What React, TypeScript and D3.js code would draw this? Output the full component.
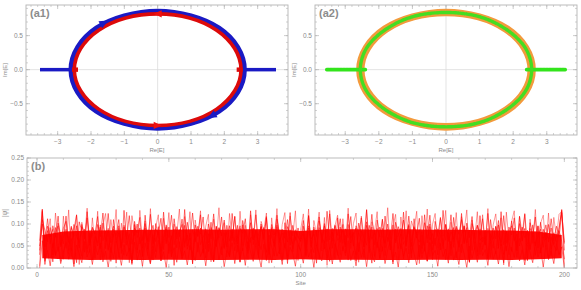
import React from "react";
import * as d3 from "d3";

// ---- panel (a): spectra in the complex plane ----
// ellipse points [Re, Im], first quadrant, mirrored below
const blueQuad: [number, number][] = [[2.6, 0], [2.4, 0.33], [1.84, 0.61], [1.0, 0.79], [0, 0.86]];
const redQuad: [number, number][] = [[2.5, 0], [2.31, 0.31], [1.77, 0.58], [0.96, 0.76], [0, 0.82]];
const greenQuad: [number, number][] = [[2.55, 0], [2.36, 0.32], [1.8, 0.59], [0.98, 0.78], [0, 0.84]];

// real-axis branches [from, to]
const blueBranches: [number, number][] = [[-3.53, -2.6], [2.6, 3.55]];
const greenBranches: [number, number][] = [[-3.55, -2.4], [2.4, 3.55]];

// arrows [Re, Im, dRe, dIm]
const blueArrows = [[-1.6, 0.69, 2.05, 0.53], [1.62, -0.68, -2.02, -0.54]];
const redArrows = [[0, 0.82, -1, 0], [0, -0.82, 1, 0]];
const redMarks = [[-2.48, 0], [2.46, 0]];

// ---- panel (b): |psi| per site, values in 1/1000 ----
const sA = [62,134,48,95,70,88,30,102,76,55,118,40,92,67,12,105,84,36,128,58,80,22,99,71,125,44,90,15,110,63,96,33,131,52,78,8,106,69,91,27,120,60,85,18,101,74,38,127,56,93,25,112,66,87,42,133,50,79,10,98,72,121,35,89,57,104,20,94,68,116,46,83,28,124,61,97,14,108,75,39,130,53,86,24,100,65,117,31,92,49,111,77,17,103,59,126,37,84,70,62,95,29,119,54,88,11,107,73,43,129,64,90,21,114,58,99,34,123,67,81,16,102,76,47,132,55,93,26,109,71,38,118,60,85,9,104,79,44,127,51,96,23,112,68,87,32,121,57,100,19,106,74,41,131,63,89,28,115,70,48,124,55,92,13,101,77,36,119,59,86,22,110,66,95,45,128,53,83,30,107,72,40,117,61,90,18,103,75,50,96,34,88,64,99,42,80,58,92,131,40];
const sB = [30,110,85,60,92,45,78,96,52,70,88,64,40,99,73,57,94,81,35,67,90,76,50,98,62,84,42,71,95,58,80,47,93,66,38,86,74,100,55,69,91,43,77,97,60,83,36,72,94,51,68,89,46,79,99,56,75,41,87,63,95,53,70,84,37,92,65,48,90,78,44,97,61,82,54,73,96,39,85,67,58,91,49,76,93,64,35,88,71,52,98,62,80,45,94,69,55,87,74,60,83,40,96,66,77,50,92,71,58,89,43,79,95,63,70,86,48,99,57,75,91,37,84,68,52,97,65,80,46,93,72,56,88,41,98,61,76,90,54,67,85,49,94,70,59,83,38,96,64,78,51,89,73,44,99,60,82,66,92,47,75,95,57,86,40,79,97,63,70,53,90,68,45,94,74,58,87,39,81,96,62,77,50,93,69,84,42,98,56,73,88,47,80,65,91,54,72,85,60,20];
const sC = [5,128,20,74,112,30,125,60,15,118,45,132,26,90,120,8,104,66,136,35,114,50,129,18,98,124,40,110,70,133,24,102,58,127,12,119,80,34,131,62,107,28,135,47,92,121,16,113,55,126,38,100,76,134,22,117,63,128,9,109,71,130,33,95,122,14,111,59,137,43,103,25,124,68,116,36,129,52,97,19,121,64,132,31,106,85,125,11,114,57,135,42,99,126,27,118,73,130,17,88,123,48,134,21,108,77,127,39,115,6,131,61,96,120,29,112,54,136,44,101,125,13,118,69,133,35,105,82,128,23,110,58,137,41,94,122,18,116,65,130,32,107,87,129,10,119,50,134,26,99,124,46,113,72,131,20,104,60,126,37,117,84,132,15,109,67,128,30,121,53,135,24,98,123,45,114,7,127,63,106,130,39,118,78,124,16,111,56,133,34,102,120,49,125,28,115,70,122,128,55];
const sD = [0,62,15,40,5,55,28,48,10,36,58,20,45,3,52,33,12,60,25,42,8,50,30,56,14,38,2,47,22,61,35,6,53,27,44,11,59,18,41,4,57,31,9,49,24,63,16,37,1,54,29,46,13,60,21,39,7,51,34,17,58,26,43,5,55,32,14,62,19,48,3,40,28,57,10,52,23,45,6,60,36,15,50,30,2,54,20,44,12,59,27,41,8,56,18,47,33,4,53,38,11,58,25,42,1,51,31,16,60,22,46,9,55,35,13,49,28,62,17,39,5,57,24,44,3,53,30,14,59,21,48,10,41,63,19,36,2,55,27,45,12,60,33,7,52,23,47,15,58,29,40,4,56,26,43,11,61,18,37,8,54,32,1,50,22,46,13,57,28,42,6,59,20,38,9,55,31,49,3,47,24,62,16,41,7,53,35,12,58,25,44,2,51,19,39,10,56,30,48,0];
const sE = [50,100,62,112,55,96,70,118,48,90,106,58,95,72,121,46,99,66,114,52,93,78,117,44,102,63,124,57,88,74,110,49,97,68,119,54,91,80,115,45,101,61,122,56,89,76,113,42,98,69,120,53,94,71,111,47,104,65,125,59,87,77,116,43,100,67,123,51,92,73,109,48,96,62,118,55,90,79,112,46,103,64,121,50,95,70,114,44,99,75,120,57,88,68,110,52,97,63,91,66,108,54,119,47,93,72,116,58,101,60,123,45,98,74,112,56,89,69,117,50,96,78,114,48,105,61,122,53,90,71,111,46,100,65,124,57,94,73,109,49,118,62,92,76,113,44,103,67,120,55,88,72,115,51,99,64,121,47,95,77,110,58,102,69,117,43,97,74,112,52,124,60,91,66,108,50,119,56,93,75,114,48,101,63,122,54,90,71,116,46,104,67,98,59,112,62,95,70,126,58];
const sF = [40,131,8,85,66,14,92,38,74,20,83,31,67,9,96,52,27,88,44,79,18,71,58,93,24,62,86,35,77,11,90,47,29,81,63,16,99,41,70,26,84,55,12,76,37,94,21,65,89,33,73,6,87,50,28,97,43,68,19,82,36,91,57,23,78,46,15,95,61,30,80,49,25,88,39,72,13,98,54,34,69,22,85,59,42,92,17,75,48,27,94,32,63,83,10,87,45,71,56,40,76,26,91,51,35,84,20,67,96,43,15,81,58,29,93,39,74,18,86,52,31,79,64,24,97,47,11,85,60,37,90,28,70,53,14,88,44,77,21,66,99,34,58,82,25,73,49,16,94,41,68,30,87,56,19,80,45,92,23,62,35,96,50,13,84,57,27,89,42,71,20,78,61,32,98,46,12,83,55,38,91,24,67,50,17,86,43,74,29,95,36,63,81,22,70,52,40,88,133,0];
const waveSeries = [sA, sB, sC, sD, sE, sF];

// dense core of the overlapping states
const bandSites = [2, 10, 20, 30, 40, 50, 60, 70, 80, 90, 100, 110, 120, 130, 140, 150, 160, 170, 180, 190, 199];
const bandTop = [0.075, 0.083, 0.085, 0.086, 0.087, 0.087, 0.088, 0.087, 0.088, 0.088, 0.084, 0.088, 0.088, 0.087, 0.088, 0.087, 0.087, 0.086, 0.085, 0.083, 0.075];
const bandBottom = [0.022, 0.02, 0.018, 0.019, 0.018, 0.019, 0.018, 0.018, 0.019, 0.018, 0.02, 0.018, 0.019, 0.018, 0.018, 0.019, 0.018, 0.019, 0.018, 0.02, 0.022];

const FONT = "'Liberation Sans', Arial, sans-serif";
const FRAME = "#b4b4b4";
const TXT = "#8a8a8a";

const mirror = (q: [number, number][]) => {
  // full closed loop from the first-quadrant points
  const top = q.concat(q.slice(0, -1).reverse().map(([r, i]) => [-r, i] as [number, number]));
  const bottom = top.slice(1, -1).reverse().map(([r, i]) => [r, -i] as [number, number]);
  return top.concat(bottom);
};

const fmt = (v: number) => (v < 0 ? "\u2212" : "") + Math.abs(v);

function Frame({ x, y, xMajor, xMinor, yMajor, yMinor, xFmt, yFmt }: any) {
  const [x0, x1] = x.range();
  const [y0, y1] = y.range();
  return (
    <g>
      <rect x={x0} y={y1} width={x1 - x0} height={y0 - y1} fill="none" stroke={FRAME} strokeWidth={0.9} />
      {xMinor.map((t: number, i: number) => (
        <g key={"xm" + i} stroke={FRAME} strokeWidth={0.6}>
          <line x1={x(t)} x2={x(t)} y1={y0} y2={y0 - 2} />
          <line x1={x(t)} x2={x(t)} y1={y1} y2={y1 + 2} />
        </g>
      ))}
      {yMinor.map((t: number, i: number) => (
        <g key={"ym" + i} stroke={FRAME} strokeWidth={0.6}>
          <line x1={x0} x2={x0 + 2} y1={y(t)} y2={y(t)} />
          <line x1={x1} x2={x1 - 2} y1={y(t)} y2={y(t)} />
        </g>
      ))}
      {xMajor.map((t: number, i: number) => (
        <g key={"xM" + i}>
          <line x1={x(t)} x2={x(t)} y1={y0} y2={y0 - 4} stroke={FRAME} strokeWidth={0.7} />
          <line x1={x(t)} x2={x(t)} y1={y1} y2={y1 + 4} stroke={FRAME} strokeWidth={0.7} />
          <text x={x(t)} y={y0 + 8.5} fontSize={6.5} fill={TXT} textAnchor="middle" fontFamily={FONT}>
            {xFmt(t)}
          </text>
        </g>
      ))}
      {yMajor.map((t: number, i: number) => (
        <g key={"yM" + i}>
          <line x1={x0} x2={x0 + 4} y1={y(t)} y2={y(t)} stroke={FRAME} strokeWidth={0.7} />
          <line x1={x1} x2={x1 - 4} y1={y(t)} y2={y(t)} stroke={FRAME} strokeWidth={0.7} />
          <text x={x0 - 3} y={y(t) + 2.3} fontSize={6.5} fill={TXT} textAnchor="end" fontFamily={FONT}>
            {yFmt(t)}
          </text>
        </g>
      ))}
    </g>
  );
}

function Arrow({ px, py, dx, dy, color, len, half }: any) {
  const ang = (Math.atan2(dy, dx) * 180) / Math.PI;
  return (
    <path
      d={`M${len / 2},0 L${-len / 2},${-half} L${-len / 2},${half} Z`}
      fill={color}
      transform={`translate(${px},${py}) rotate(${ang})`}
    />
  );
}

function SpectrumPanel({ x, y, label, variant }: any) {
  const loop = d3.line<[number, number]>().x((d) => x(d[0])).y((d) => y(d[1])).curve(d3.curveCardinalClosed.tension(0));
  const [x0, x1] = x.range();
  const [y0, y1] = y.range();
  const cx = (x0 + x1) / 2;
  return (
    <g>
      <line x1={x(0)} x2={x(0)} y1={y0} y2={y1} stroke="#dcdcdc" strokeWidth={0.8} />
      <line x1={x0} x2={x1} y1={y(0)} y2={y(0)} stroke="#dcdcdc" strokeWidth={0.8} />
      {variant === "a1" ? (
        <g>
          {blueBranches.map((b, i) => (
            <line key={i} x1={x(b[0])} x2={x(b[1])} y1={y(0)} y2={y(0)} stroke="#1a1ac4" strokeWidth={3.5} />
          ))}
          <path d={loop(mirror(blueQuad)) || ""} fill="none" stroke="#1a1ac4" strokeWidth={5} />
          <path d={loop(mirror(redQuad)) || ""} fill="none" stroke="#dd0a0a" strokeWidth={3.6} />
          {blueArrows.map((a, i) => (
            <Arrow key={"b" + i} px={x(a[0])} py={y(a[1])} dx={x(a[0] + a[2]) - x(a[0])} dy={y(a[1] + a[3]) - y(a[1])} color="#1a1ac4" len={9} half={4} />
          ))}
          {redArrows.map((a, i) => (
            <Arrow key={"r" + i} px={x(a[0])} py={y(a[1])} dx={x(a[0] + a[2]) - x(a[0])} dy={y(a[1] + a[3]) - y(a[1])} color="#ee1111" len={8} half={3.6} />
          ))}
          {redMarks.map((m, i) => (
            <rect key={"m" + i} x={x(m[0]) - 3} y={y(m[1]) - 2.2} width={6} height={4.4} fill="#dd0a0a" />
          ))}
        </g>
      ) : (
        <g>
          <path d={loop(mirror(blueQuad)) || ""} fill="none" stroke="#f39a3c" strokeWidth={5} />
          <path d={loop(mirror(redQuad)) || ""} fill="none" stroke="#f39a3c" strokeWidth={5} />
          {greenBranches.map((b, i) => (
            <line key={i} x1={x(b[0])} x2={x(b[1])} y1={y(0)} y2={y(0)} stroke="#33e41c" strokeWidth={3.6} strokeLinecap="round" strokeDasharray="2.4 0.8" />
          ))}
          <path d={loop(mirror(greenQuad)) || ""} fill="none" stroke="#44dd22" strokeWidth={3.4} strokeLinecap="round" strokeDasharray="2.6 0.9" />
        </g>
      )}
      <Frame
        x={x}
        y={y}
        xMajor={x.ticks(7)}
        xMinor={x.ticks(40)}
        yMajor={y.ticks(4)}
        yMinor={y.ticks(20)}
        xFmt={fmt}
        yFmt={(v: number) => (v < 0 ? "\u2212" : "") + Math.abs(v).toFixed(1)}
      />
      <text x={x0 + 4} y={y1 + 11.5} fontSize={11} fill="#8c8c8c" fontWeight="bold" fontFamily={FONT}>
        {label}
      </text>
      <text x={cx} y={y0 + 16.5} fontSize={6} fill={TXT} textAnchor="middle" fontFamily={FONT}>
        Re[E]
      </text>
      <text transform={`translate(${x0 - 19},${(y0 + y1) / 2}) rotate(-90)`} fontSize={6} fill={TXT} textAnchor="middle" fontFamily={FONT}>
        Im[E]
      </text>
    </g>
  );
}

export default function App() {
  const ya = d3.scaleLinear().domain([-0.96, 0.95]).range([135, 5]);
  const xa1 = d3.scaleLinear().domain([-3.95, 3.91]).range([26, 288]);
  const xa2 = d3.scaleLinear().domain([-3.9, 3.9]).range([315, 577]);

  const xb = d3.scaleLinear().domain([-3.8, 204.8]).range([27, 577]);
  const yb = d3.scaleLinear().domain([0, 0.25]).range([268, 158]);

  const wave = d3.line<number>().x((_, i) => xb(i + 1)).y((v) => yb(v / 1000));
  const band = d3
    .area<number>()
    .x((s) => xb(s))
    .y0((_, i) => yb(bandBottom[i]))
    .y1((_, i) => yb(bandTop[i]));

  return (
    <svg width={581} height={290} style={{ position: "absolute", left: 0, top: 0, background: "#fff" }}>
      <SpectrumPanel x={xa1} y={ya} label="(a1)" variant="a1" />
      <SpectrumPanel x={xa2} y={ya} label="(a2)" variant="a2" />

      <g>
        <path d={band(bandSites) || ""} fill="#ff0000" opacity={0.95} />
        {waveSeries.map((s, i) => (
          <path key={i} d={wave(s) || ""} fill="none" stroke="#ff0000" strokeWidth={1} opacity={i === 2 ? 0.4 : 0.55} />
        ))}
        <Frame
          x={xb}
          y={yb}
          xMajor={xb.ticks(5)}
          xMinor={xb.ticks(20)}
          yMajor={yb.ticks(5)}
          yMinor={yb.ticks(25)}
          xFmt={(v: number) => String(v)}
          yFmt={(v: number) => v.toFixed(2)}
        />
        <text x={31} y={170} fontSize={11} fill="#8c8c8c" fontWeight="bold" fontFamily={FONT}>
          (b)
        </text>
        <text x={xb(100)} y={285} fontSize={6} fill={TXT} textAnchor="middle" fontFamily={FONT}>
          Site
        </text>
        <text transform={`translate(7,${(158 + 268) / 2}) rotate(-90)`} fontSize={6.5} fill={TXT} textAnchor="middle" fontFamily={FONT}>
          |ψ|
        </text>
      </g>
    </svg>
  );
}
